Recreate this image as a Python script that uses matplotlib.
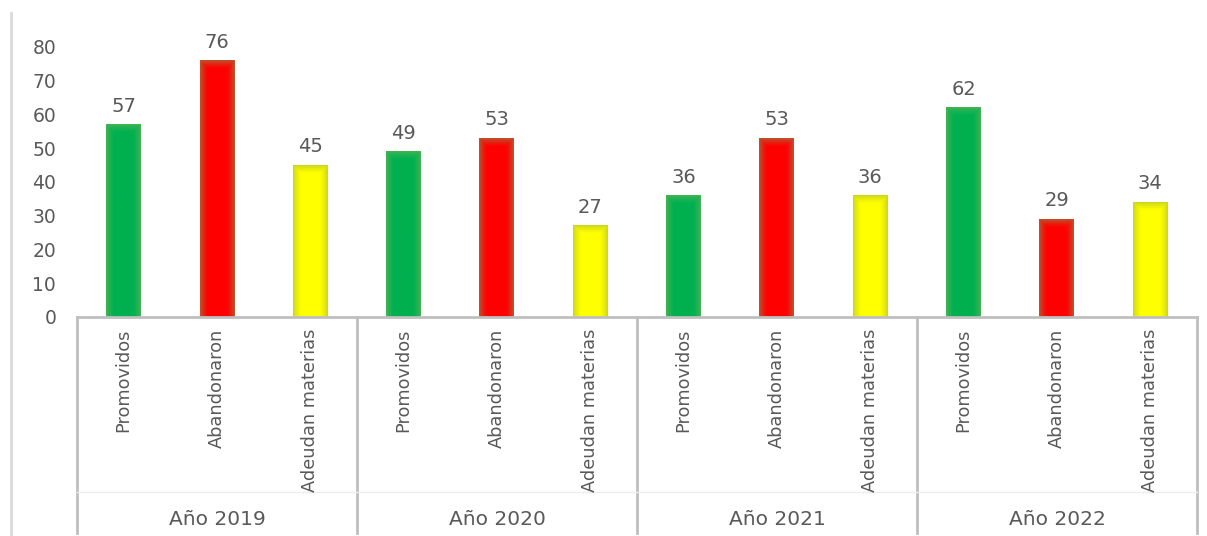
import numpy as np
import matplotlib.pyplot as plt
from matplotlib.colors import to_rgb
from matplotlib.transforms import blended_transform_factory

years = ['Año 2019', 'Año 2020', 'Año 2021', 'Año 2022']
categories = ['Promovidos', 'Abandonaron', 'Adeudan materias']
values = [
    [57, 76, 45],
    [49, 53, 27],
    [36, 53, 36],
    [62, 29, 34],
]
center_colors = ['#00B050', '#FF0000', '#FFFF00']
edge_colors = ['#48B454', '#B85A30', '#C8D41C']

plt.rcParams['font.family'] = ['DejaVu Sans']
txt = '#595959'
line_c = '#BFBFBF'

fig = plt.figure(figsize=(12.07, 5.36), dpi=100)
ax = fig.add_axes([0.0638, 0.4086, 0.9279, 0.5354])

bar_w = 0.375
px_per_unit = 287 / 85.0
for g, row in enumerate(values):
    for c, v in enumerate(row):
        x = g * 3 + c
        W = 36
        H = max(int(v * px_per_unit), 2)
        xx = np.arange(W)
        yy = np.arange(H)
        dl = xx[None, :] + 0.5
        dr = W - xx[None, :] - 0.5
        dt = yy[:, None] + 0.5
        d = np.minimum(np.minimum(dl, dr), dt)
        f = np.clip(d / 8.0, 0, 1)[..., None] ** 0.8
        e = np.array(to_rgb(edge_colors[c]))
        m = np.array(to_rgb(center_colors[c]))
        img = e * (1 - f) + m * f
        ax.imshow(img, extent=[x - bar_w / 2, x + bar_w / 2, 0, v],
                  aspect='auto', interpolation='bilinear', zorder=2)
        ax.text(x, v + 2.6, str(v), ha='center', va='bottom',
                fontsize=14, color=txt)

ax.set_xlim(-0.5, 11.5)
ax.set_ylim(0, 85)
ax.set_yticks(range(0, 81, 10))
ax.tick_params(axis='y', length=0, pad=15, labelsize=13.5, labelcolor=txt)
ax.set_xticks([])
for s in ['top', 'right', 'left']:
    ax.spines[s].set_visible(False)
ax.spines['bottom'].set_color(line_c)
ax.spines['bottom'].set_linewidth(2)

tr = blended_transform_factory(ax.transData, ax.transAxes)
for b in [-0.5, 2.5, 5.5, 8.5, 11.5]:
    ax.plot([b, b], [0, -0.753], color=line_c, lw=2, transform=tr, clip_on=False)
ax.plot([-0.5, 11.5], [-0.61, -0.61], color='#EDEDED', lw=1, transform=tr,
        clip_on=False)

for g, yname in enumerate(years):
    for c, cat in enumerate(categories):
        ax.text(g * 3 + c, -0.04, cat, rotation=90, ha='center', va='top',
                fontsize=12.8, color=txt, transform=tr)
    ax.text(g * 3 + 1, -0.705, yname, ha='center', va='center',
            fontsize=14.5, color=txt, transform=tr)

fig.add_artist(plt.Line2D([11 / 1207, 11 / 1207], [0, 1 - 13 / 536],
                          color='#D9D9D9', lw=2))

fig.savefig('out.png', dpi=100)
